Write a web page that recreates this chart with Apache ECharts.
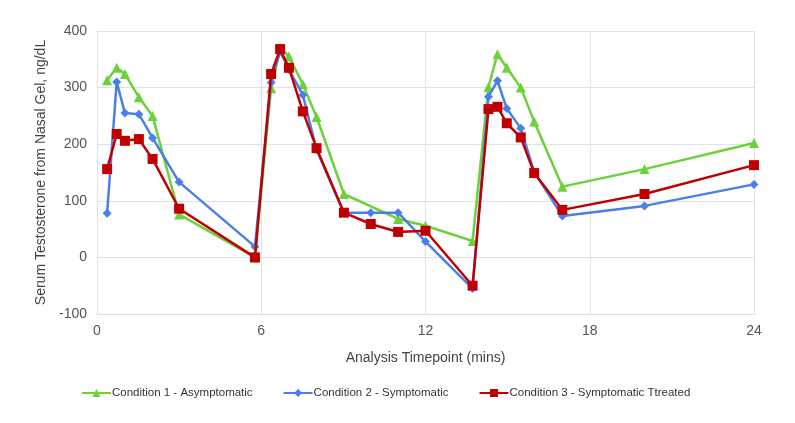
<!DOCTYPE html>
<html><head><meta charset="utf-8">
<script src="https://cdn.jsdelivr.net/npm/echarts@6/dist/echarts.min.js"></script>
<style>html,body{margin:0;padding:0;background:#fff}#c{width:795px;height:423px}</style>
</head><body><div id="c"></div>
<script>
const seriesNames = ['Condition 1 - Asymptomatic', 'Condition 2 - Symptomatic', 'Condition 3 - Symptomatic Ttreated'];
const xTicks = [0, 6, 12, 18, 24];
const yTicks = [-100, 0, 100, 200, 300, 400];

const time1 = [0.37, 0.72, 1.02, 1.53, 2.03, 3, 5.77, 6.36, 6.69, 7.01, 7.52, 8.02, 9.02, 11, 12, 13.72, 14.3, 14.63, 14.97, 15.48, 15.97, 17, 20, 24];
const cond1 = [313, 335, 324, 283, 250, 76, 0, 299, 370, 355, 306, 248, 112, 68, 56, 29, 301, 359, 335, 300, 240, 125, 156, 202];

const time23 = [0.37, 0.72, 1.02, 1.53, 2.03, 3, 5.77, 6.36, 6.69, 7.01, 7.52, 8.02, 9.02, 10, 11, 12, 13.72, 14.3, 14.63, 14.97, 15.48, 15.97, 17, 20, 24];
const cond2 = [78, 310, 255, 253, 211, 133, 19, 309, 364, 332, 287, 190, 79, 79, 79, 28, -55, 284, 312, 263, 228, 151, 73, 91, 129];
const cond3 = [156, 218, 206, 209, 174, 86, 0, 324, 368, 335, 258, 193, 79, 59, 45, 47, -50, 262, 266, 237, 212, 149, 84, 112, 163];

const pair = (xs, ys) => xs.map((x, i) => [x, ys[i]]);
const font = '"Liberation Sans", Arial, sans-serif';
const colors = ['#6cd13a', '#4a80e6', '#c00000'];

const chart = echarts.init(document.getElementById('c'), null, {renderer: 'canvas'});
chart.setOption({
  animation: false,
  color: colors,
  textStyle: {fontFamily: font},
  grid: {left: 97, right: 41, top: 31, bottom: 109, containLabel: false},
  legend: {
    top: 382, left: 76, itemGap: 30, itemWidth: 29, itemHeight: 10,
    textStyle: {fontFamily: font, fontSize: 11.5, color: '#333', padding: [0, 0, 0, -4]},
    data: seriesNames
  },
  xAxis: {
    type: 'value', min: xTicks[0], max: xTicks[xTicks.length - 1], interval: 6,
    name: 'Analysis Timepoint (mins)', nameLocation: 'middle', nameGap: 37,
    nameTextStyle: {fontFamily: font, fontSize: 14, color: '#444'},
    axisLine: {show: true, onZero: false, lineStyle: {color: '#dbe2e8'}},
    axisTick: {show: false},
    axisLabel: {fontFamily: font, fontSize: 14, color: '#555', margin: 10},
    splitLine: {show: true, lineStyle: {color: '#dbe2e8', width: 1}}
  },
  yAxis: {
    type: 'value', min: yTicks[0], max: yTicks[yTicks.length - 1], interval: 100,
    name: 'Serum Testosterone from Nasal Gel, ng/dL', nameLocation: 'middle', nameGap: 44,
    nameTextStyle: {fontFamily: font, fontSize: 14, color: '#444'},
    axisLine: {show: true, lineStyle: {color: '#dbe2e8'}},
    axisTick: {show: false},
    axisLabel: {fontFamily: font, fontSize: 14, color: '#555', margin: 10},
    splitLine: {show: true, lineStyle: {color: '#dbe2e8', width: 1}}
  },
  series: [
    {name: seriesNames[0], type: 'line', data: pair(time1, cond1), symbol: 'triangle', symbolSize: 10,
     lineStyle: {width: 2.5}, itemStyle: {color: colors[0]}, z: 2},
    {name: seriesNames[1], type: 'line', data: pair(time23, cond2), symbol: 'diamond', symbolSize: 9,
     lineStyle: {width: 2.5}, itemStyle: {color: colors[1]}, z: 3},
    {name: seriesNames[2], type: 'line', data: pair(time23, cond3), symbol: 'rect', symbolSize: 10,
     lineStyle: {width: 2.5}, itemStyle: {color: colors[2]}, z: 4}
  ]
});
</script></body></html>
